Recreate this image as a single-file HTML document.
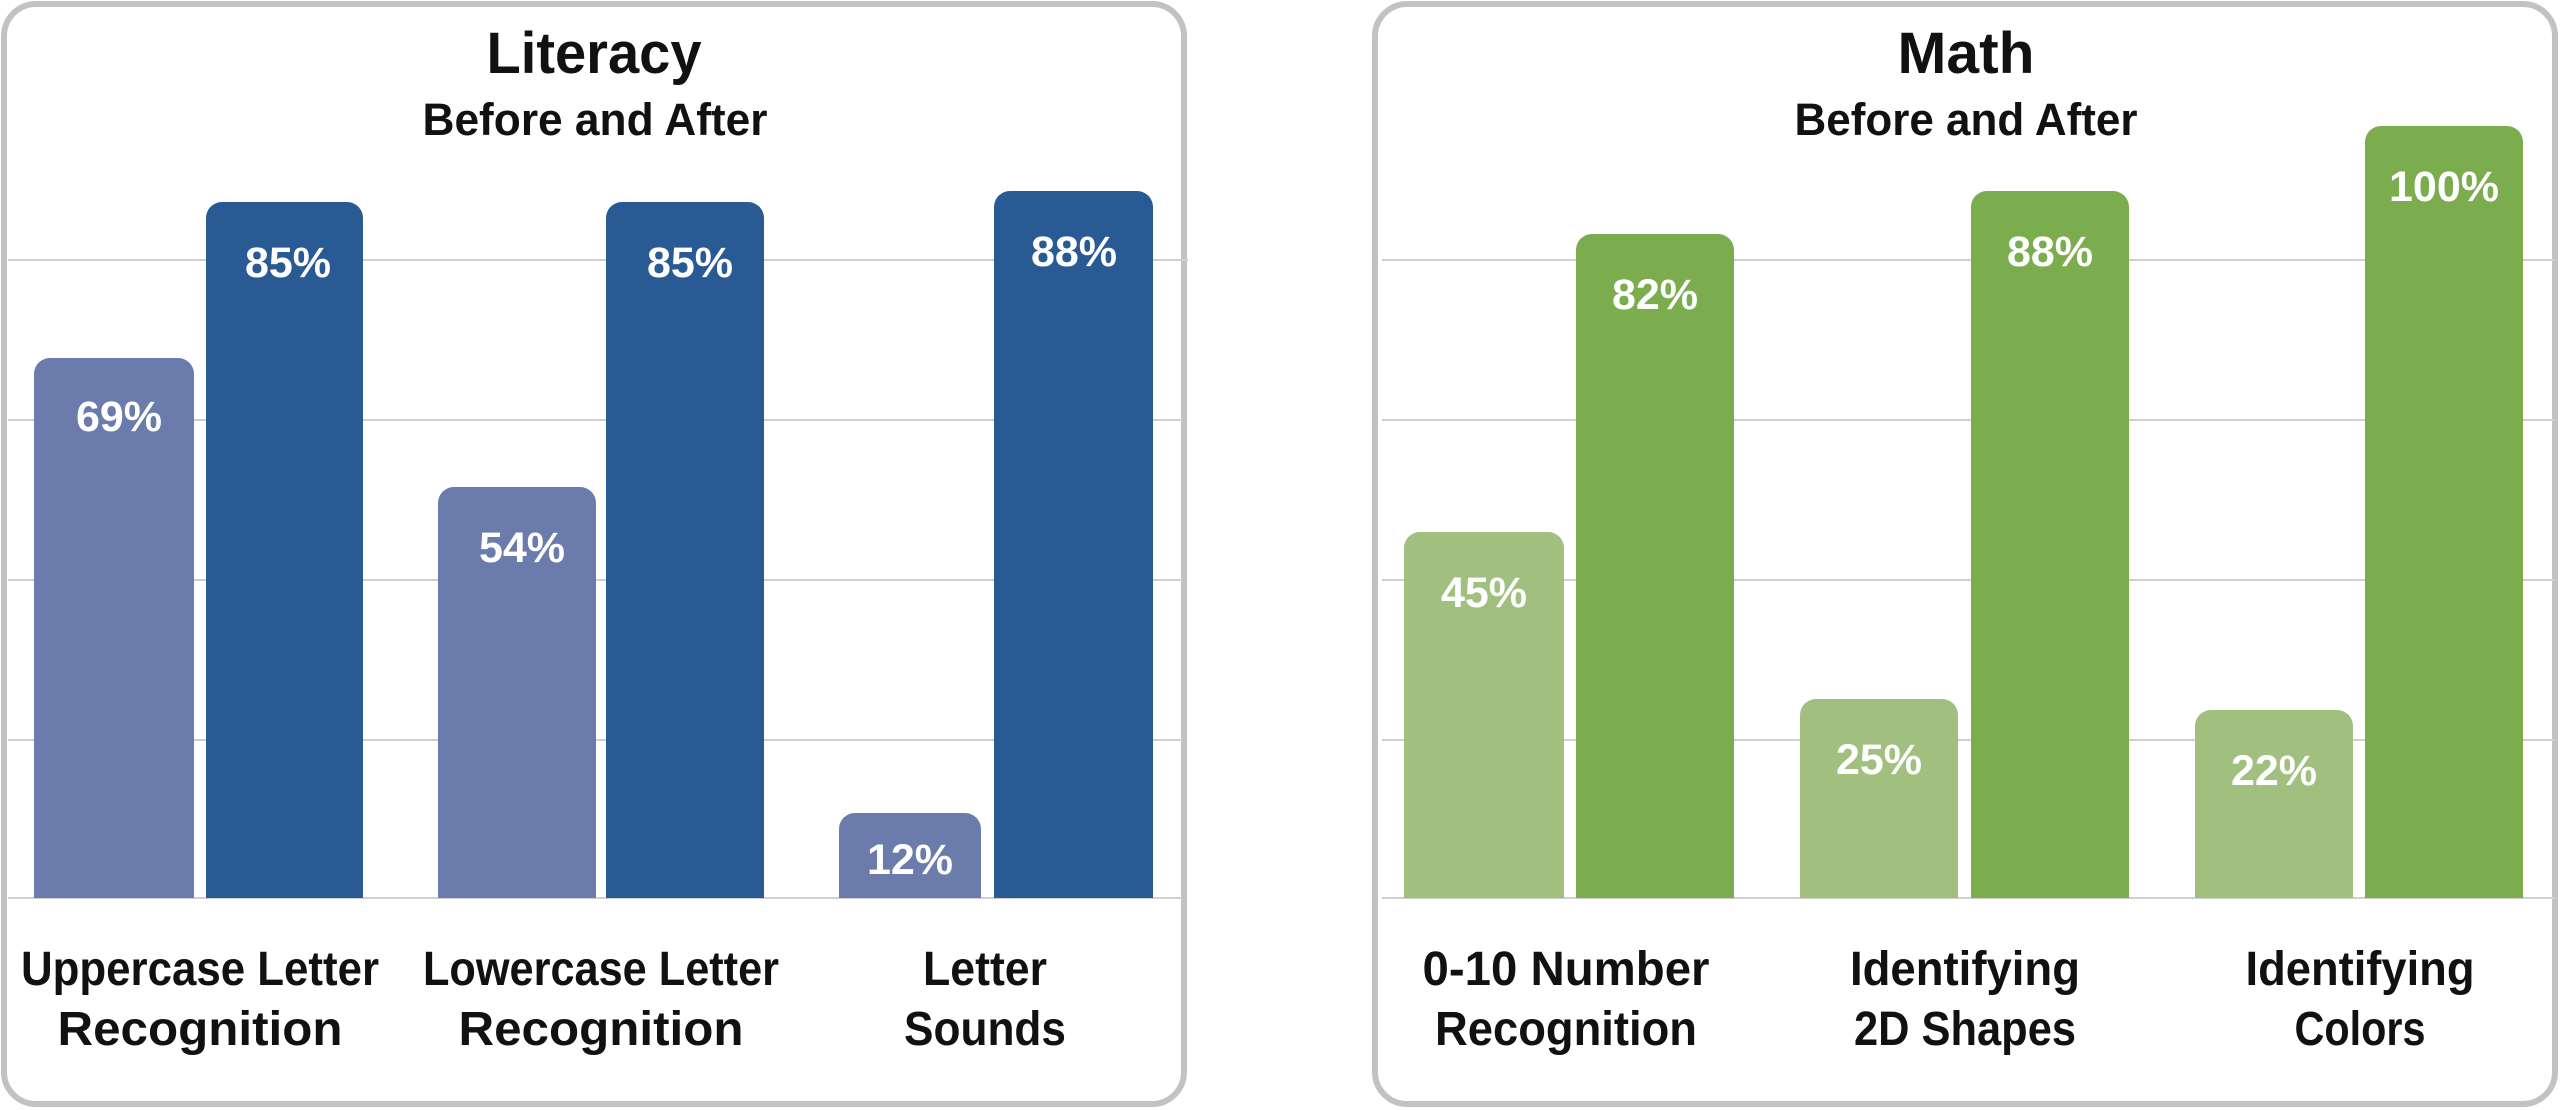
<!DOCTYPE html>
<html><head><meta charset="utf-8"><style>
html,body{margin:0;padding:0;background:#fff;}
svg{display:block;}
text{font-family:"Liberation Sans",sans-serif;font-weight:bold;}
</style></head><body>
<svg width="2560" height="1110" viewBox="0 0 2560 1110" xmlns="http://www.w3.org/2000/svg">
<rect x="4" y="4" width="1180" height="1100" rx="32" fill="#fff" stroke="#c2c2c2" stroke-width="6"/>
<rect x="1375" y="4" width="1180" height="1100" rx="32" fill="#fff" stroke="#c2c2c2" stroke-width="6"/>
<g stroke="#cfcfcf" stroke-width="2">
<line x1="8" x2="1188" y1="260" y2="260"/><line x1="8" x2="1182" y1="420" y2="420"/><line x1="8" x2="1182" y1="580" y2="580"/><line x1="8" x2="1182" y1="740" y2="740"/><line x1="8" x2="1182" y1="898" y2="898"/>
<line x1="1382" x2="2555" y1="260" y2="260"/><line x1="1382" x2="2555" y1="420" y2="420"/><line x1="1382" x2="2555" y1="580" y2="580"/><line x1="1382" x2="2555" y1="740" y2="740"/><line x1="1382" x2="2555" y1="898" y2="898"/>
</g>
<g>
<path d="M34 898V374a16 16 0 0 1 16-16h128a16 16 0 0 1 16 16V898Z" fill="#6a7bac"/>
<path d="M206 898V218a16 16 0 0 1 16-16h125a16 16 0 0 1 16 16V898Z" fill="#2a5a94"/>
<path d="M438 898V503a16 16 0 0 1 16-16h126a16 16 0 0 1 16 16V898Z" fill="#6a7bac"/>
<path d="M606 898V218a16 16 0 0 1 16-16h126a16 16 0 0 1 16 16V898Z" fill="#2a5a94"/>
<path d="M839 898V829a16 16 0 0 1 16-16h110a16 16 0 0 1 16 16V898Z" fill="#6a7bac"/>
<path d="M994 898V207a16 16 0 0 1 16-16h127a16 16 0 0 1 16 16V898Z" fill="#2a5a94"/>
</g>
<g>
<path d="M1404 898V548a16 16 0 0 1 16-16h128a16 16 0 0 1 16 16V898Z" fill="#a1c07f"/>
<path d="M1576 898V250a16 16 0 0 1 16-16h126a16 16 0 0 1 16 16V898Z" fill="#7bad4f"/>
<path d="M1800 898V715a16 16 0 0 1 16-16h126a16 16 0 0 1 16 16V898Z" fill="#a1c07f"/>
<path d="M1971 898V207a16 16 0 0 1 16-16h126a16 16 0 0 1 16 16V898Z" fill="#7bad4f"/>
<path d="M2195 898V726a16 16 0 0 1 16-16h126a16 16 0 0 1 16 16V898Z" fill="#a1c07f"/>
<path d="M2365 898V142a16 16 0 0 1 16-16h126a16 16 0 0 1 16 16V898Z" fill="#7bad4f"/>
</g>
<g fill="#fff" font-size="43" text-anchor="middle">
<text x="119" y="431">69%</text>
<text x="288" y="277">85%</text>
<text x="522" y="562">54%</text>
<text x="690" y="277">85%</text>
<text x="910" y="874">12%</text>
<text x="1074" y="266">88%</text>
<text x="1484" y="607">45%</text>
<text x="1655" y="309">82%</text>
<text x="1879" y="774">25%</text>
<text x="2050" y="266">88%</text>
<text x="2274" y="785">22%</text>
<text x="2444" y="201">100%</text>
</g>
<g fill="#111" text-anchor="middle">
<text x="594" y="73" font-size="58" textLength="215" lengthAdjust="spacingAndGlyphs">Literacy</text>
<text x="595" y="135" font-size="45" textLength="345" lengthAdjust="spacingAndGlyphs">Before and After</text>
<text x="1966" y="73" font-size="58" textLength="137" lengthAdjust="spacingAndGlyphs">Math</text>
<text x="1966" y="135" font-size="45" textLength="343" lengthAdjust="spacingAndGlyphs">Before and After</text>
</g>
<g fill="#111" text-anchor="middle" font-size="48">
<text x="200" y="985" textLength="358" lengthAdjust="spacingAndGlyphs">Uppercase Letter</text>
<text x="200" y="1045" textLength="285" lengthAdjust="spacingAndGlyphs">Recognition</text>
<text x="601" y="985" textLength="356" lengthAdjust="spacingAndGlyphs">Lowercase Letter</text>
<text x="601" y="1045" textLength="285" lengthAdjust="spacingAndGlyphs">Recognition</text>
<text x="985" y="985" textLength="124" lengthAdjust="spacingAndGlyphs">Letter</text>
<text x="985" y="1045" textLength="162" lengthAdjust="spacingAndGlyphs">Sounds</text>
<text x="1566" y="985" textLength="287" lengthAdjust="spacingAndGlyphs">0-10 Number</text>
<text x="1566" y="1045" textLength="262" lengthAdjust="spacingAndGlyphs">Recognition</text>
<text x="1965" y="985" textLength="230" lengthAdjust="spacingAndGlyphs">Identifying</text>
<text x="1965" y="1045" textLength="222" lengthAdjust="spacingAndGlyphs">2D Shapes</text>
<text x="2360" y="985" textLength="229" lengthAdjust="spacingAndGlyphs">Identifying</text>
<text x="2360" y="1045" textLength="131" lengthAdjust="spacingAndGlyphs">Colors</text>
</g>
</svg>
</body></html>
